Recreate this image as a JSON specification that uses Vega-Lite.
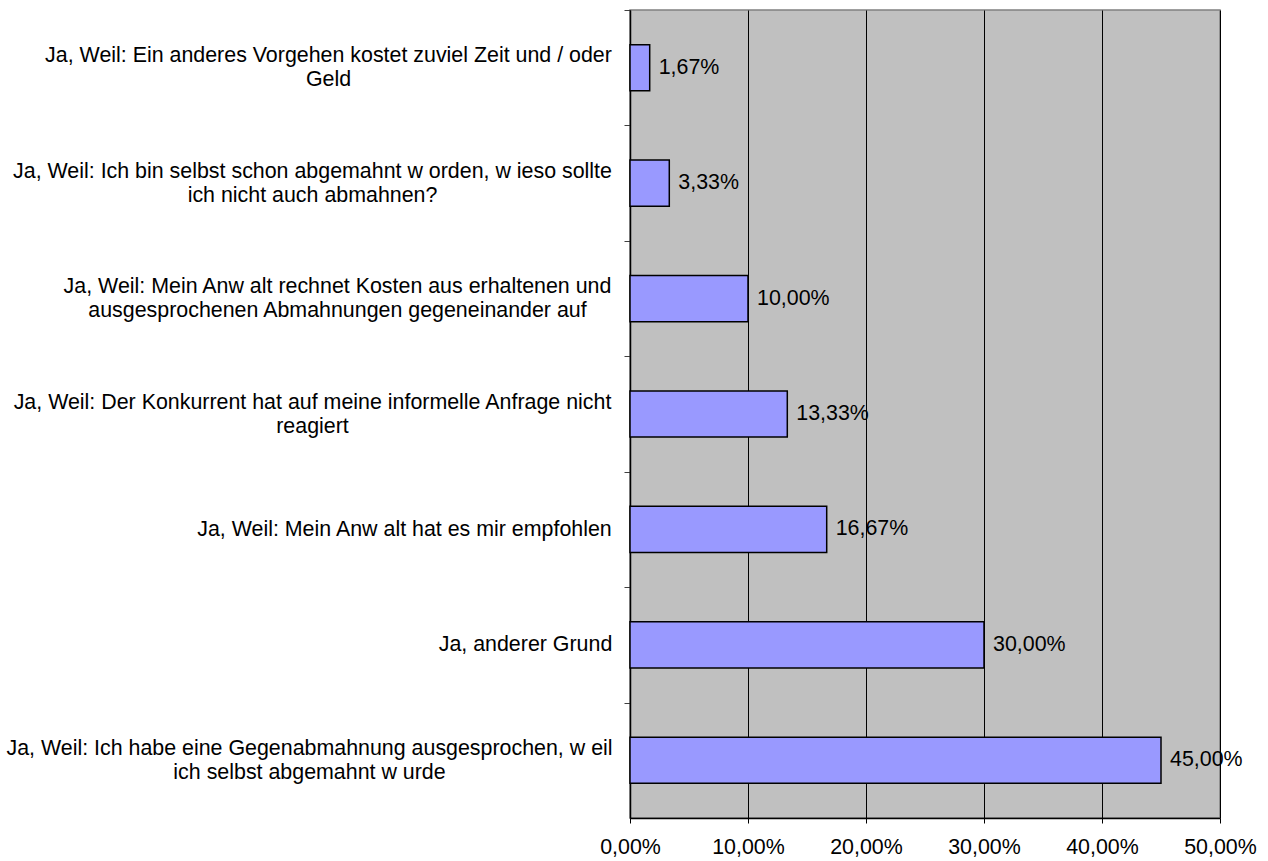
{
  "$schema": "https://vega.github.io/schema/vega-lite/v6.json",
  "autosize": {"type": "none"},
  "padding": {"left": 630, "top": 10, "right": 48, "bottom": 43},
  "width": 590,
  "height": 808,
  "background": "white",
  "config": {
    "locale": {"number": {"decimal": ",", "thousands": ".", "grouping": [3], "currency": ["", " €"]}},
    "font": "Liberation Sans",
    "view": {"fill": "#C0C0C0", "stroke": "#808080", "strokeWidth": 1.5}
  },
  "data": {
    "values": [
      {"grund": "Ja, Weil: Ein anderes Vorgehen kostet zuviel Zeit und / oder|Geld", "anteil": 0.0167},
      {"grund": "Ja, Weil: Ich bin selbst schon abgemahnt w orden, w ieso sollte|ich nicht auch abmahnen?", "anteil": 0.0333},
      {"grund": "Ja, Weil: Mein Anw alt rechnet Kosten aus erhaltenen und|ausgesprochenen Abmahnungen gegeneinander auf", "anteil": 0.1},
      {"grund": "Ja, Weil: Der Konkurrent hat auf meine informelle Anfrage nicht|reagiert", "anteil": 0.1333},
      {"grund": "Ja, Weil: Mein Anw alt hat es mir empfohlen", "anteil": 0.1667},
      {"grund": "Ja, anderer Grund", "anteil": 0.3},
      {"grund": "Ja, Weil: Ich habe eine Gegenabmahnung ausgesprochen, w eil|ich selbst abgemahnt w urde", "anteil": 0.45}
    ]
  },
  "encoding": {
    "y": {
      "field": "grund",
      "type": "nominal",
      "sort": null,
      "scale": {"paddingInner": 0.6, "paddingOuter": 0.3},
      "axis": {
        "title": null,
        "labelExpr": "split(datum.label, '|')",
        "labelFontSize": 21.4,
        "labelColor": "black",
        "labelLineHeight": 24,
        "labelAlign": "center",
        "labelBaseline": "middle",
        "labelPadding": {
          "condition": [
            {"test": "indexof(datum.value, 'Geld') >= 0", "value": 296},
            {"test": "indexof(datum.value, 'abmahnen?') >= 0", "value": 312},
            {"test": "indexof(datum.value, 'gegeneinander') >= 0", "value": 287},
            {"test": "indexof(datum.value, 'reagiert') >= 0", "value": 312},
            {"test": "indexof(datum.value, 'empfohlen') >= 0", "value": 220},
            {"test": "indexof(datum.value, 'anderer Grund') >= 0", "value": 99}
          ],
          "value": 315
        },
        "tickOffset": -57.7,
        "labelOffset": {
          "condition": {"test": "indexof(datum.value, '|') >= 0", "value": 45.7},
          "value": 57.7
        },
        "labelLimit": 0,
        "tickSize": 6,
        "tickColor": "#404040",
        "domainColor": "black",
        "domainWidth": 1.5,
        "grid": false
      }
    },
    "x": {
      "field": "anteil",
      "type": "quantitative",
      "scale": {"domain": [0, 0.5]},
      "axis": {
        "title": null,
        "format": ".2%",
        "values": [0, 0.1, 0.2, 0.3, 0.4, 0.5],
        "labelFontSize": 21.4,
        "labelColor": "black",
        "labelPadding": 13,
        "labelFlush": false,
        "tickSize": 5,
        "tickColor": "black",
        "domainColor": "black",
        "domainWidth": 1.5,
        "grid": true,
        "gridColor": "black",
        "gridWidth": 1
      }
    }
  },
  "layer": [
    {
      "mark": {"type": "bar", "fill": "#9999FF", "stroke": "black", "strokeWidth": 1.5}
    },
    {
      "mark": {"type": "text", "align": "left", "baseline": "middle", "dx": 9, "fontSize": 21.4, "color": "black"},
      "encoding": {"text": {"field": "anteil", "type": "quantitative", "format": ".2%"}}
    }
  ]
}
